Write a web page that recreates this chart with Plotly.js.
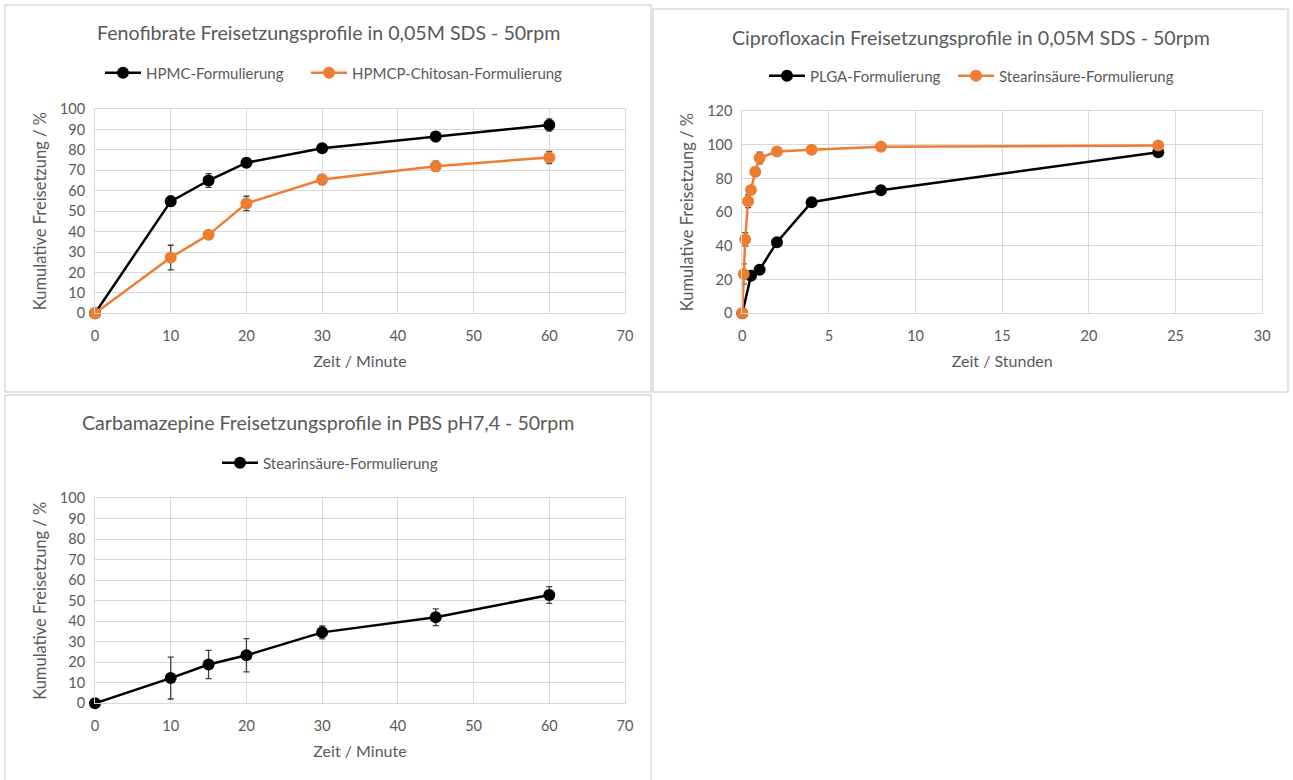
<!DOCTYPE html>
<html>
<head>
<meta charset="utf-8">
<script src="https://cdn.plot.ly/plotly-3.0.1.min.js"></script>
<style>html,body{margin:0;padding:0;background:#fff;}#chart{width:1293px;height:780px;}</style>
</head>
<body>
<div id="chart"></div>
<script>
// ---- Data ----
// Fenofibrate (minutes)
const fenoTime = [0, 10, 15, 20, 30, 45, 60];
const fenoHPMC = [0, 54.8, 65.0, 73.7, 80.8, 86.5, 92.2];
const fenoHPMCErr = [0, 2.5, 3.4, 1.5, 1.5, 2.4, 3.0];
const fenoChitosan = [0, 27.3, 38.4, 53.8, 65.5, 72.0, 76.3];
const fenoChitosanErr = [0, 6.0, 1.5, 3.5, 2.5, 2.5, 3.0];

// Ciprofloxacin (hours)
const ciproPLGATime = [0, 0.5, 1, 2, 4, 8, 24];
const ciproPLGA = [0, 22.3, 25.9, 42.2, 65.9, 73.0, 95.5];
const ciproPLGAErr = [0, 1.5, 1.5, 1.0, 1.0, 1.0, 1.0];
const ciproStearTime = [0, 0.083, 0.167, 0.333, 0.5, 0.75, 1, 2, 4, 8, 24];
const ciproStear = [0, 23.3, 43.8, 66.5, 73.2, 84.0, 92.1, 96.0, 97.0, 98.8, 99.5];
const ciproStearErr = [0, 6.0, 4.0, 3.8, 2.0, 2.5, 3.5, 1.0, 1.0, 1.0, 1.0];

// Carbamazepine (minutes)
const carbaTime = [0, 10, 15, 20, 30, 45, 60];
const carbaStear = [0, 12.3, 18.9, 23.4, 34.6, 42.0, 52.8];
const carbaStearErr = [0, 10.2, 6.9, 8.1, 3.2, 4.1, 4.1];

const titles = [
  "Fenofibrate Freisetzungsprofile in 0,05M SDS - 50rpm",
  "Ciprofloxacin Freisetzungsprofile in 0,05M SDS - 50rpm",
  "Carbamazepine Freisetzungsprofile in PBS pH7,4 - 50rpm"
];
const yTitle = "Kumulative Freisetzung / %";
const xTitleMin = "Zeit / Minute";
const xTitleHour = "Zeit / Stunden";

// ---- Styling ----
const W = 1293, H = 780;
const FONT = "Lato, 'Open Sans', sans-serif";
const TXT = "#595959";
const GRID = "#D9D9D9";
const BLACK = "#000000";
const ORANGE = "#ED7D31";
const ERRC = "#404040";

function px(x) { return x / W; }
function py(y) { return 1 - y / H; }

function series(x, y, err, name, color, xa, ya, leg) {
  return {
    type: "scatter", mode: "lines+markers", x: x, y: y, name: name,
    xaxis: xa, yaxis: ya, legend: leg, cliponaxis: false,
    line: {color: color, width: 2.5},
    marker: {color: color, size: 12, symbol: "circle"},
    error_y: {type: "data", array: err, visible: true, color: ERRC, thickness: 1.3, width: 3}
  };
}

const data = [
  series(fenoTime, fenoHPMC, fenoHPMCErr, "HPMC-Formulierung", BLACK, "x", "y", "legend"),
  series(fenoTime, fenoChitosan, fenoChitosanErr, "HPMCP-Chitosan-Formulierung", ORANGE, "x", "y", "legend2"),
  series(ciproPLGATime, ciproPLGA, ciproPLGAErr, "PLGA-Formulierung", BLACK, "x2", "y2", "legend3"),
  series(ciproStearTime, ciproStear, ciproStearErr, "Stearinsäure-Formulierung", ORANGE, "x2", "y2", "legend4"),
  series(carbaTime, carbaStear, carbaStearErr, "Stearinsäure-Formulierung", BLACK, "x3", "y3", "legend5")
];

function xax(domain, range, dtick, title, anchor) {
  return {
    domain: domain, range: range, dtick: dtick, tick0: 0, anchor: anchor,
    showgrid: true, gridcolor: GRID, gridwidth: 1,
    zeroline: false, showline: true, linecolor: GRID, linewidth: 1, mirror: true,
    ticks: "", ticklabelstandoff: 9,
    tickfont: {family: FONT, size: 14.5, color: TXT},
    title: {text: title, font: {family: FONT, size: 16, color: TXT}, standoff: 13},
    fixedrange: true
  };
}
function yax(domain, range, dtick, anchor) {
  return {
    domain: domain, range: range, dtick: dtick, tick0: 0, anchor: anchor,
    showgrid: true, gridcolor: GRID, gridwidth: 1,
    zeroline: false, showline: true, linecolor: GRID, linewidth: 1, mirror: true,
    ticks: "", ticklabelstandoff: 6,
    tickfont: {family: FONT, size: 14.5, color: TXT},
    title: {text: yTitle, font: {family: FONT, size: 16.5, color: TXT}, standoff: 9},
    fixedrange: true
  };
}

function legendAt(symStartX, cy) {
  return {
    orientation: "h", xanchor: "left", yanchor: "middle",
    x: px(symStartX - 7), y: py(cy),
    font: {family: FONT, size: 15, color: TXT}, bgcolor: "rgba(0,0,0,0)",
    itemwidth: 36, tracegroupgap: 0
  };
}

function panelRect(x0, y0, x1, y1) {
  return {type: "rect", xref: "paper", yref: "paper",
    x0: px(x0), x1: px(x1), y0: py(y1), y1: py(y0),
    line: {color: GRID, width: 1.5}, fillcolor: "rgba(0,0,0,0)", layer: "below"};
}
function titleAnn(text, cx, cy) {
  return {text: text, xref: "paper", yref: "paper", x: px(cx), y: py(cy),
    xanchor: "center", yanchor: "middle", showarrow: false,
    font: {family: FONT, size: 19.6, color: TXT}};
}

const layout = {
  width: W, height: H,
  margin: {l: 0, r: 0, t: 0, b: 0},
  paper_bgcolor: "#ffffff", plot_bgcolor: "#ffffff",
  showlegend: true,
  xaxis: xax([px(95), px(625)], [0, 70], 10, xTitleMin, "y"),
  yaxis: yax([py(313.3), py(109)], [0, 100], 10, "x"),
  xaxis2: xax([px(742.3), px(1262.2)], [0, 30], 5, xTitleHour, "y2"),
  yaxis2: yax([py(313.3), py(111)], [0, 120], 20, "x2"),
  xaxis3: xax([px(95), px(625)], [0, 70], 10, xTitleMin, "y3"),
  yaxis3: yax([py(703.3), py(498.3)], [0, 100], 10, "x3"),
  legend: legendAt(107, 73),
  legend2: legendAt(313, 73),
  legend3: legendAt(771, 76),
  legend4: legendAt(960, 76),
  legend5: legendAt(224, 463),
  shapes: [
    panelRect(5, 5, 651, 392),
    panelRect(653, 9, 1288, 392),
    panelRect(5, 395, 651, 790)
  ],
  annotations: [
    titleAnn(titles[0], 328, 33),
    titleAnn(titles[1], 971, 37),
    titleAnn(titles[2], 328, 422)
  ]
};

Plotly.newPlot("chart", data, layout, {displayModeBar: false, staticPlot: true});
</script>
</body>
</html>
